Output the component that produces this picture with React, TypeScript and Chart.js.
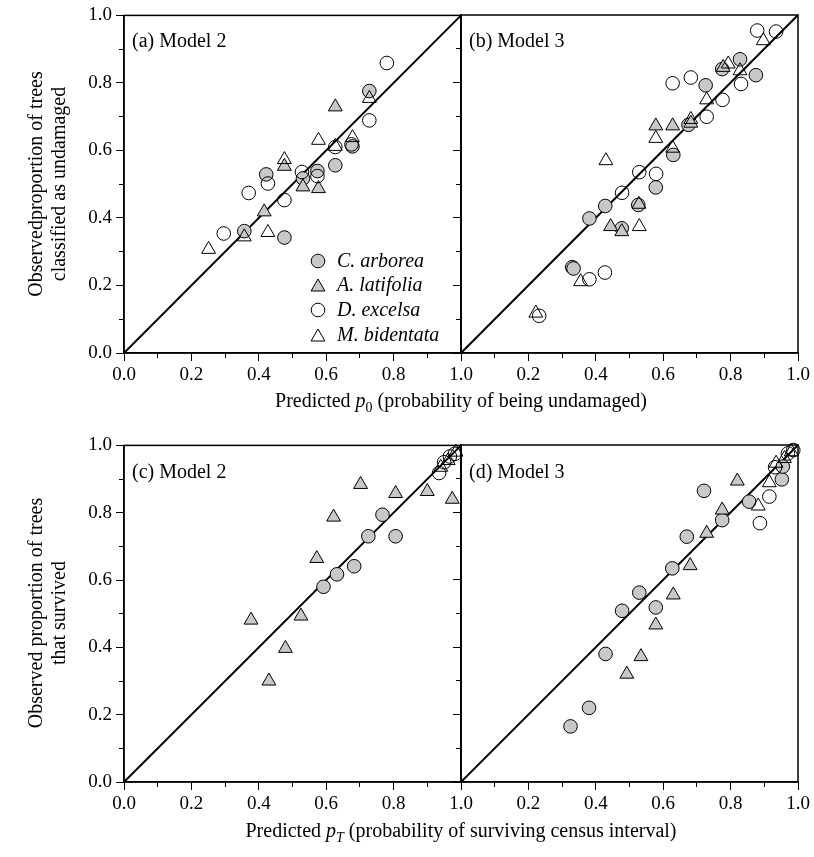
import React, { useEffect, useRef } from 'react';
import { Chart, registerables } from 'chart.js';

Chart.register(...registerables);

const FONT = '"Liberation Serif", "Times New Roman", serif';
const GRAY = '#c8c8c8';

type Series = number[][];

// ---------- data: [predicted, observed] ----------
// (a) Model 2 : p0
const aArborea: Series = [[0.728, 0.776], [0.678, 0.612], [0.627, 0.556], [0.422, 0.529], [0.531, 0.517], [0.574, 0.539], [0.357, 0.361], [0.476, 0.342]];
const aLatifolia: Series = [[0.627, 0.729], [0.476, 0.553], [0.531, 0.492], [0.577, 0.487], [0.416, 0.418]];
const aExcelsa: Series = [[0.780, 0.859], [0.728, 0.689], [0.627, 0.610], [0.675, 0.618], [0.427, 0.502], [0.528, 0.536], [0.574, 0.524], [0.370, 0.474], [0.476, 0.453], [0.296, 0.354]];
const aBidentata: Series = [[0.728, 0.754], [0.577, 0.630], [0.678, 0.638], [0.627, 0.612], [0.476, 0.573], [0.357, 0.344], [0.427, 0.357], [0.251, 0.307]];

// (b) Model 3 : p0
const bArborea: Series = [[0.828, 0.869], [0.775, 0.840], [0.875, 0.822], [0.726, 0.792], [0.675, 0.675], [0.630, 0.586], [0.578, 0.490], [0.428, 0.435], [0.526, 0.438], [0.381, 0.398], [0.477, 0.369], [0.330, 0.254], [0.334, 0.250]];
const bLatifolia: Series = [[0.778, 0.845], [0.578, 0.672], [0.628, 0.672], [0.682, 0.680], [0.444, 0.374], [0.477, 0.359]];
const bExcelsa: Series = [[0.879, 0.954], [0.935, 0.951], [0.831, 0.796], [0.628, 0.798], [0.682, 0.815], [0.776, 0.749], [0.729, 0.699], [0.529, 0.535], [0.579, 0.530], [0.478, 0.474], [0.381, 0.218], [0.427, 0.238], [0.232, 0.110]];
const bBidentata: Series = [[0.897, 0.924], [0.793, 0.855], [0.828, 0.835], [0.729, 0.749], [0.682, 0.691], [0.578, 0.635], [0.628, 0.606], [0.430, 0.569], [0.528, 0.440], [0.529, 0.374], [0.355, 0.211], [0.222, 0.118]];

// (c) Model 2 : pT
const cArborea: Series = [[0.767, 0.794], [0.725, 0.730], [0.806, 0.730], [0.683, 0.641], [0.632, 0.617], [0.592, 0.580]];
const cLatifolia: Series = [[0.702, 0.884], [0.622, 0.787], [0.572, 0.664], [0.525, 0.493], [0.377, 0.481], [0.479, 0.397], [0.430, 0.300], [0.806, 0.857], [0.900, 0.863], [0.974, 0.840]];
const cExcelsa: Series = [[0.935, 0.918], [0.950, 0.950], [0.967, 0.967], [0.982, 0.975]];
const cBidentata: Series = [[0.940, 0.935], [0.962, 0.955], [0.985, 0.980]];

// (d) Model 3 : pT
const dArborea: Series = [[0.721, 0.864], [0.952, 0.898], [0.855, 0.832], [0.775, 0.777], [0.670, 0.728], [0.627, 0.634], [0.529, 0.562], [0.478, 0.508], [0.578, 0.518], [0.429, 0.380], [0.380, 0.220], [0.325, 0.165], [0.955, 0.936]];
const dLatifolia: Series = [[0.820, 0.893], [0.775, 0.807], [0.729, 0.738], [0.680, 0.642], [0.630, 0.555], [0.578, 0.466], [0.534, 0.372], [0.492, 0.320]];
const dExcelsa: Series = [[0.915, 0.847], [0.887, 0.768], [0.932, 0.934], [0.970, 0.975], [0.986, 0.985]];
const dBidentata: Series = [[0.915, 0.888], [0.882, 0.819], [0.935, 0.946], [0.960, 0.960], [0.980, 0.980]];

const speciesNames = ['C. arborea', 'A. latifolia', 'D. excelsa', 'M. bidentata'];
const diagonal: Series = [[0, 0], [1, 1]];

const CIRCLE_R = 6.8;
const TRI_R = 8;

const styles = [
  { shape: 'circle', fill: GRAY, r: CIRCLE_R },
  { shape: 'triangle', fill: GRAY, r: TRI_R },
  { shape: 'circle', fill: 'rgba(255,255,255,0)', r: CIRCLE_R },
  { shape: 'triangle', fill: 'rgba(255,255,255,0)', r: TRI_R },
];

const framePlugin = {
  id: 'frame',
  beforeDatasetsDraw(chart: any) {
    const { ctx, chartArea } = chart;
    ctx.save();
    ctx.strokeStyle = '#000';
    ctx.lineWidth = 1.5;
    ctx.strokeRect(chartArea.left, chartArea.top, chartArea.right - chartArea.left, chartArea.bottom - chartArea.top);
    ctx.restore();
  },
};

const legendPlugin = {
  id: 'insetLegend',
  afterDatasetsDraw(chart: any) {
    const { ctx, chartArea } = chart;
    const mx = chartArea.left + 194;
    const tx = chartArea.left + 213;
    const rows = [92, 68, 43, 18];
    ctx.save();
    styles.forEach((s, i) => {
      const y = chartArea.bottom - rows[i];
      ctx.beginPath();
      if (s.shape === 'circle') {
        ctx.arc(mx, y, s.r, 0, Math.PI * 2);
      } else {
        let a = 0;
        const cy = y + s.r * 0.25;
        ctx.moveTo(mx + Math.sin(a) * s.r, cy - Math.cos(a) * s.r);
        a += (2 * Math.PI) / 3;
        ctx.lineTo(mx + Math.sin(a) * s.r, cy - Math.cos(a) * s.r);
        a += (2 * Math.PI) / 3;
        ctx.lineTo(mx + Math.sin(a) * s.r, cy - Math.cos(a) * s.r);
        ctx.closePath();
      }
      ctx.fillStyle = s.fill;
      ctx.fill();
      ctx.strokeStyle = '#000';
      ctx.lineWidth = 1;
      ctx.stroke();
      ctx.fillStyle = '#000';
      ctx.font = 'italic 20px ' + FONT;
      ctx.textBaseline = 'middle';
      ctx.textAlign = 'left';
      ctx.fillText(speciesNames[i], tx, y + 1);
    });
    ctx.restore();
  },
};

interface PanelProps {
  left: number;
  top: number;
  axisW: number;
  plotW: number;
  plotH: number;
  topPad: number;
  rightPad: number;
  axisH: number;
  yLabels: boolean;
  xHideZero: boolean;
  series: Series[];
  legend?: boolean;
}

function Panel(p: PanelProps) {
  const ref = useRef<HTMLCanvasElement>(null);
  const w = p.axisW + p.plotW + p.rightPad;
  const h = p.topPad + p.plotH + p.axisH;

  useEffect(() => {
    if (!ref.current) return;
    const toPts = (s: Series) => s.map(([x, y]) => ({ x, y }));
    const tickFont = { family: FONT, size: 19 };
    const datasets: any[] = [
      {
        type: 'line',
        label: 'diagonal',
        data: toPts(diagonal),
        borderColor: '#000',
        borderWidth: 2,
        pointRadius: 0,
        fill: false,
        clip: false,
        order: 10,
        xAxisID: 'x',
        yAxisID: 'y',
      },
    ];
    p.series.forEach((s, i) => {
      const st = styles[i];
      datasets.push({
        type: 'scatter',
        label: speciesNames[i],
        data: toPts(s),
        pointStyle: st.shape,
        pointRadius: st.r,
        pointHoverRadius: st.r,
        pointBackgroundColor: st.fill,
        pointBorderColor: '#000',
        pointBorderWidth: 1,
        backgroundColor: st.fill,
        borderColor: '#000',
        showLine: false,
        clip: false,
        order: 5 - i,
        xAxisID: 'x',
        yAxisID: 'y',
      });
    });

    const fmt = (v: any) => Number(v).toFixed(1);

    const chart = new Chart(ref.current, {
      type: 'scatter',
      data: { datasets },
      options: {
        responsive: false,
        animation: false,
        events: [],
        layout: { padding: { top: p.topPad, right: p.rightPad, left: 0, bottom: 0 }, autoPadding: false },
        plugins: { legend: { display: false }, tooltip: { enabled: false } },
        scales: {
          xm: {
            type: 'linear', position: 'bottom', min: 0, max: 1, weight: 0,
            afterFit: (s: any) => { s.height = 0; },
            ticks: { display: false, stepSize: 0.1 },
            grid: { drawOnChartArea: false, drawTicks: true, tickLength: 5, tickColor: '#000', color: '#000', tickWidth: 1 },
            border: { display: false },
          },
          x: {
            type: 'linear', position: 'bottom', min: 0, max: 1, weight: 1,
            afterFit: (s: any) => { s.height = p.axisH; },
            ticks: {
              stepSize: 0.2, font: tickFont, color: '#000', padding: 3, maxRotation: 0, autoSkip: false,
              callback: (v: any) => (p.xHideZero && Math.abs(Number(v)) < 1e-9 ? '' : fmt(v)),
            },
            grid: { drawOnChartArea: false, drawTicks: true, tickLength: 8, tickColor: '#000', color: '#000', tickWidth: 1 },
            border: { display: true, color: '#000', width: 1.5 },
          },
          ym: {
            type: 'linear', position: 'left', min: 0, max: 1, weight: 0,
            afterFit: (s: any) => { s.width = 0; },
            ticks: { display: false, stepSize: 0.1 },
            grid: { drawOnChartArea: false, drawTicks: true, tickLength: 5, tickColor: '#000', color: '#000', tickWidth: 1 },
            border: { display: false },
          },
          y: {
            type: 'linear', position: 'left', min: 0, max: 1, weight: 1,
            afterFit: (s: any) => { s.width = p.axisW; },
            ticks: {
              display: p.yLabels, stepSize: 0.2, font: tickFont, color: '#000', padding: 4,
              callback: (v: any) => fmt(v),
            },
            grid: { drawOnChartArea: false, drawTicks: true, tickLength: 8, tickColor: '#000', color: '#000', tickWidth: 1 },
            border: { display: true, color: '#000', width: 1.5 },
          },
        },
      } as any,
      plugins: p.legend ? [framePlugin, legendPlugin] : [framePlugin],
    } as any);
    return () => chart.destroy();
  }, []);

  return (
    <canvas
      ref={ref}
      width={w}
      height={h}
      style={{ position: 'absolute', left: p.left, top: p.top, width: w, height: h }}
    />
  );
}

const textStyle: React.CSSProperties = {
  position: 'absolute',
  fontFamily: FONT,
  fontSize: 20,
  color: '#000',
  whiteSpace: 'nowrap',
  lineHeight: '22px',
};

const subStyle: React.CSSProperties = { fontSize: 14, verticalAlign: 'baseline', position: 'relative', top: 5 };

export default function App() {
  return (
    <div style={{ position: 'absolute', left: 0, top: 0, width: 814, height: 857, background: '#fff', overflow: 'hidden' }}>
      <Panel left={0} top={0} axisW={124} plotW={337} plotH={338} topPad={15} rightPad={15} axisH={40}
        yLabels={true} xHideZero={false} series={[aArborea, aLatifolia, aExcelsa, aBidentata]} legend={true} />
      <Panel left={449} top={0} axisW={12} plotW={337} plotH={338} topPad={15} rightPad={15} axisH={40}
        yLabels={false} xHideZero={true} series={[bArborea, bLatifolia, bExcelsa, bBidentata]} />
      <Panel left={0} top={430} axisW={124} plotW={337} plotH={337} topPad={15} rightPad={15} axisH={40}
        yLabels={true} xHideZero={false} series={[cArborea, cLatifolia, cExcelsa, cBidentata]} />
      <Panel left={449} top={430} axisW={12} plotW={337} plotH={337} topPad={15} rightPad={15} axisH={40}
        yLabels={false} xHideZero={true} series={[dArborea, dLatifolia, dExcelsa, dBidentata]} />

      <div style={{ ...textStyle, left: 132, top: 29 }}>(a) Model 2</div>
      <div style={{ ...textStyle, left: 469, top: 29 }}>(b) Model 3</div>
      <div style={{ ...textStyle, left: 132, top: 460 }}>(c) Model 2</div>
      <div style={{ ...textStyle, left: 469, top: 460 }}>(d) Model 3</div>

      <div style={{ ...textStyle, left: 47, top: 184, lineHeight: '23px', textAlign: 'center', transform: 'translate(-50%, -50%) rotate(-90deg)' }}>
        Observedproportion of trees<br />classified as undamaged
      </div>
      <div style={{ ...textStyle, left: 47, top: 613, lineHeight: '23px', textAlign: 'center', transform: 'translate(-50%, -50%) rotate(-90deg)' }}>
        Observed proportion of trees<br />that survived
      </div>

      <div style={{ ...textStyle, left: 461, top: 401, transform: 'translate(-50%, -50%)' }}>
        Predicted <i>p</i><sub style={subStyle}>0</sub> (probability of being undamaged)
      </div>
      <div style={{ ...textStyle, left: 461, top: 831, transform: 'translate(-50%, -50%)' }}>
        Predicted <i>p</i><sub style={{ ...subStyle, fontStyle: 'italic' }}>T</sub> (probability of surviving census interval)
      </div>
    </div>
  );
}
